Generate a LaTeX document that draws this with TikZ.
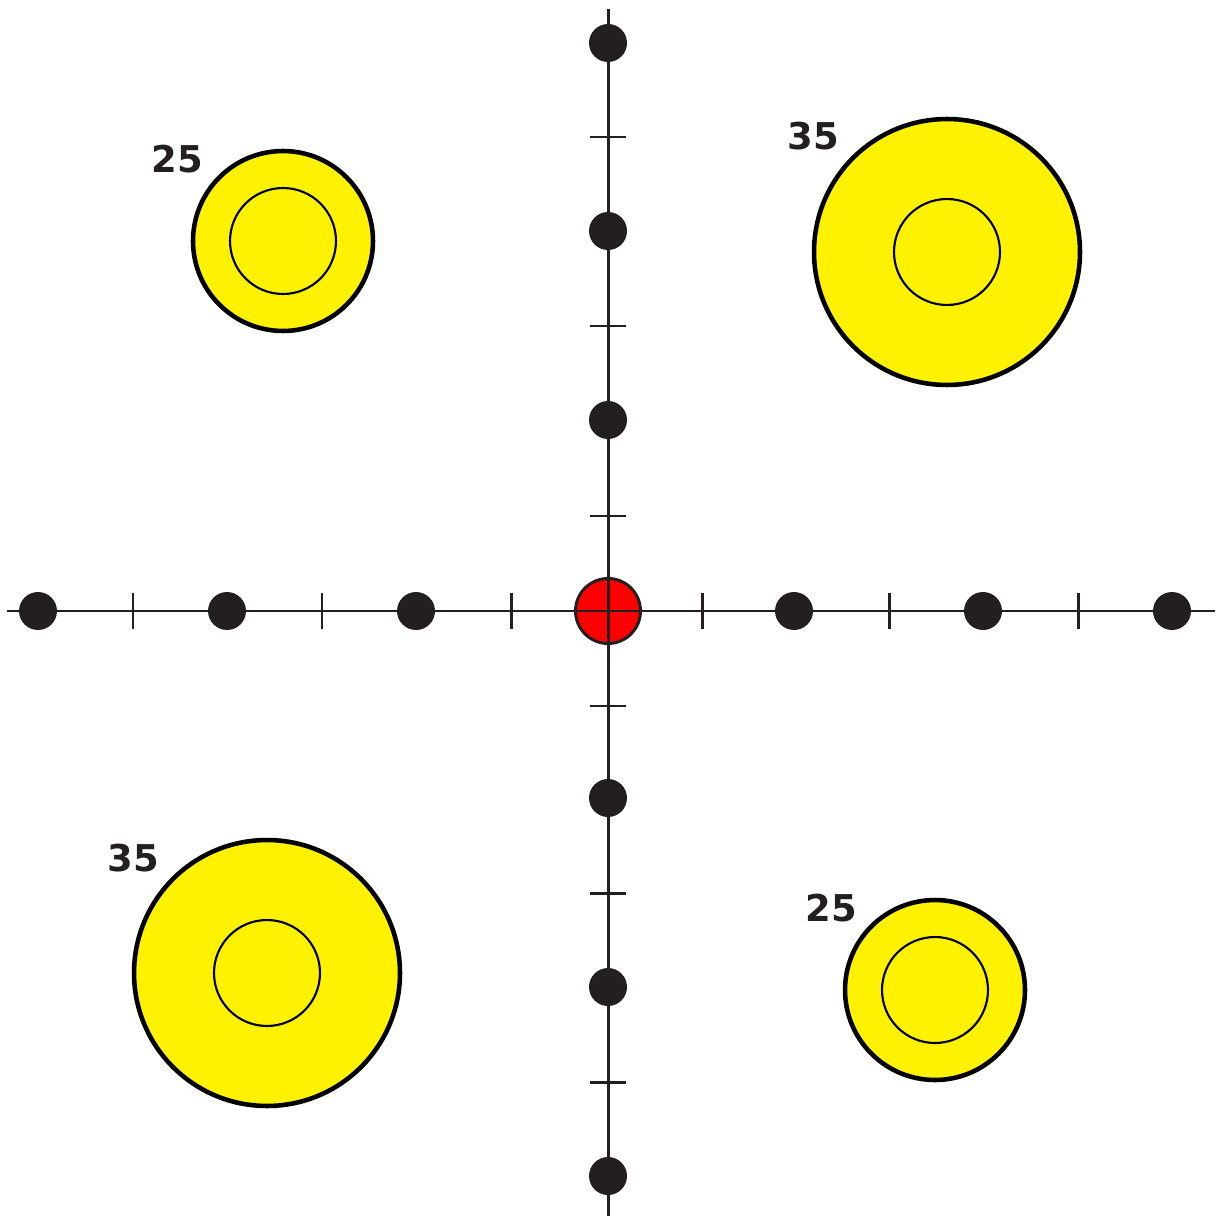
\documentclass[tikz,border=0pt]{standalone}
\usepackage{fontspec}
\newfontfamily\labelfont{DejaVu Sans}
\definecolor{ink}{HTML}{231F20}
\definecolor{lemon}{HTML}{FFF200}

\tikzset{
    dot/.style={circle, fill=ink, draw=none, minimum size=0.76cm, inner sep=0pt},
    origin/.style={circle, draw=ink, fill=red, line width=1.7pt, minimum size=1.3cm, inner sep=0pt},
    ring/.style={circle, draw=black, fill=lemon, line width=2.6pt, inner sep=0pt},
    core/.style={circle, draw=black, line width=1.2pt, minimum size=2.12cm, inner sep=0pt},
    num/.style={font=\labelfont\bfseries\fontsize{21}{21}\selectfont, text=ink, inner sep=0pt},
    axis/.style={draw=ink, line width=1.7pt}
}

\begin{document}
\begin{tikzpicture}[x=0.02cm, y=-0.02cm]
    \useasboundingbox (0,0) rectangle (1215,1216);

    % Draw targets
    \node[ring, minimum size=3.6cm] (tl) at (283,241) {};
    \node[core] (tlc) at (tl) {};
    \node[ring, minimum size=5.32cm] (tr) at (947,252) {};
    \node[core] (trc) at (tr) {};
    \node[ring, minimum size=5.32cm] (bl) at (267,973) {};
    \node[core] (blc) at (bl) {};
    \node[ring, minimum size=3.6cm] (br) at (935,990) {};
    \node[core] (brc) at (br) {};

    % Labels
    \node[num] (tln) at (177,159) {25};
    \node[num] (trn) at (813,136) {35};
    \node[num] (bln) at (133,858) {35};
    \node[num] (brn) at (831,908) {25};

    % Draw origin
    \node[origin] (o) at (608,611) {};

    % Draw axes
    \coordinate (xl) at (7,611);
    \coordinate (xr) at (1215,611);
    \coordinate (yt) at (608,9);
    \coordinate (yb) at (608,1216);
    \draw[axis] (xl) -- (xr);
    \draw[axis] (yt) -- (yb);

    % Ticks
    \foreach \t in {133,322,511,702,889,1078}
        \draw[axis] (\t,593) -- (\t,629);
    \foreach \t in {137,326,516,706,893,1082}
        \draw[axis] (590,\t) -- (626,\t);

    % Draw nodes
    \node[dot] (x1) at (38,611) {};
    \node[dot] (x2) at (227,611) {};
    \node[dot] (x3) at (416,611) {};
    \node[dot] (x4) at (794,611) {};
    \node[dot] (x5) at (983,611) {};
    \node[dot] (x6) at (1172,611) {};
    \node[dot] (y1) at (608,43) {};
    \node[dot] (y2) at (608,231) {};
    \node[dot] (y3) at (608,420) {};
    \node[dot] (y4) at (608,798) {};
    \node[dot] (y5) at (608,987) {};
    \node[dot] (y6) at (608,1176) {};
\end{tikzpicture}
\end{document}
